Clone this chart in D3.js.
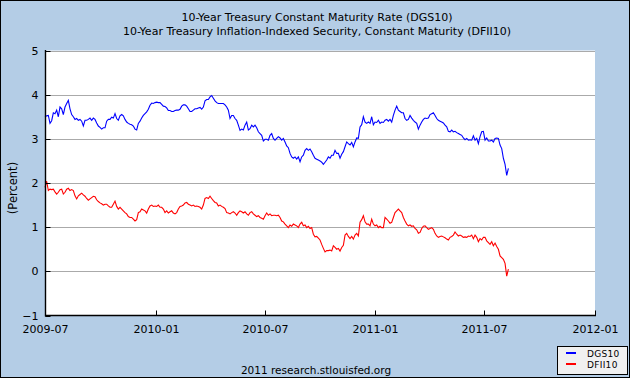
<!DOCTYPE html>
<html><head><meta charset="utf-8">
<script src="https://cdn.jsdelivr.net/npm/d3@7"></script>
<style>
body{margin:0;background:#fff}
svg{display:block}
text{font-family:"DejaVu Sans",Verdana,sans-serif;fill:#000}
</style>
</head><body>
<svg id="c" width="630" height="378"></svg>
<script>
// ---- data ----
const titleLines = [
  "10-Year Treasury Constant Maturity Rate (DGS10)",
  "10-Year Treasury Inflation-Indexed Security, Constant Maturity (DFII10)"
];
const seriesNames = ["DGS10", "DFII10"];
const yTicks = [-1, 0, 1, 2, 3, 4, 5];
const xTicks = ["2009-07-01", "2010-01-01", "2010-07-01", "2011-01-01", "2011-07-01", "2012-01-01"];
const sampleStart = "2009-07-01";
const sampleStepDays = 2.77;

const dgs10 = [
3.50,3.52,3.53,3.35,3.41,3.59,3.57,3.65,3.50,3.72,
3.68,3.55,3.72,3.80,3.87,3.68,3.55,3.50,3.44,3.46,
3.42,3.44,3.40,3.29,3.42,3.42,3.44,3.47,3.42,3.47,
3.44,3.36,3.29,3.26,3.22,3.25,3.25,3.40,3.44,3.44,
3.49,3.47,3.57,3.46,3.42,3.52,3.55,3.52,3.44,3.38,
3.35,3.33,3.32,3.29,3.22,3.20,3.35,3.40,3.47,3.53,
3.57,3.61,3.67,3.76,3.81,3.80,3.82,3.83,3.82,3.82,
3.78,3.74,3.73,3.70,3.64,3.64,3.62,3.62,3.64,3.65,
3.65,3.67,3.74,3.77,3.77,3.74,3.68,3.62,3.62,3.65,
3.68,3.68,3.70,3.71,3.67,3.72,3.86,3.89,3.89,3.95,
3.98,3.92,3.86,3.82,3.80,3.80,3.80,3.80,3.77,3.72,
3.65,3.46,3.53,3.53,3.46,3.42,3.31,3.19,3.22,3.20,
3.31,3.38,3.20,3.23,3.31,3.27,3.31,3.25,3.16,3.12,
3.08,2.95,2.99,2.99,2.97,3.08,3.12,3.01,
2.97,3.01,3.05,3.02,2.97,3.01,2.93,2.84,2.80,2.67,
2.59,2.56,2.59,2.54,2.59,2.48,2.59,2.63,2.74,2.78,
2.74,2.77,2.71,2.63,2.56,2.54,2.52,2.50,2.47,2.42,
2.47,2.52,2.59,2.56,2.63,2.63,2.74,2.67,2.67,2.56,
2.65,2.71,2.82,2.93,2.89,2.86,2.92,2.82,2.93,3.02,
3.01,3.27,3.32,3.50,3.38,3.35,3.38,3.35,3.50,3.32,
3.38,3.37,3.42,3.35,3.38,3.37,3.42,3.44,3.40,3.44,
3.38,3.53,3.65,3.74,3.65,3.62,3.59,3.59,3.46,3.42,
3.44,3.53,3.47,3.42,3.38,3.35,3.22,3.31,3.38,3.44,
3.47,3.46,3.47,3.55,3.57,3.59,3.53,3.46,3.42,3.40,
3.38,3.36,3.31,3.27,3.17,3.16,3.20,3.16,3.17,3.14,
3.12,3.10,3.08,3.02,2.98,3.01,2.97,2.98,2.97,3.07,
2.97,3.01,2.89,3.05,3.16,3.17,2.97,3.02,2.95,2.95,
2.97,2.93,3.01,3.02,3.01,2.86,2.78,2.56,2.42,2.17,
2.33
];

const dfii10 = [
1.90,2.04,1.83,1.86,1.85,1.86,1.80,1.75,1.79,1.85,
1.86,1.75,1.79,1.86,1.88,1.83,1.85,1.83,1.71,1.64,
1.71,1.74,1.77,1.73,1.70,1.65,1.61,1.64,1.67,1.70,
1.69,1.62,1.58,1.55,1.53,1.50,1.52,1.52,1.48,1.45,
1.45,1.52,1.59,1.47,1.41,1.45,1.41,1.37,1.33,1.30,
1.24,1.22,1.22,1.18,1.14,1.17,1.33,1.35,1.41,1.39,
1.37,1.32,1.41,1.48,1.50,1.47,1.48,1.47,1.50,1.45,
1.45,1.41,1.33,1.37,1.32,1.35,1.37,1.32,1.30,1.33,
1.41,1.47,1.48,1.50,1.55,1.56,1.52,1.50,1.48,1.50,
1.47,1.48,1.47,1.45,1.41,1.50,1.65,1.67,1.65,1.70,
1.65,1.60,1.56,1.55,1.48,1.50,1.47,1.45,1.42,1.33,
1.32,1.30,1.33,1.35,1.32,1.27,1.33,1.37,1.35,1.32,
1.35,1.30,1.27,1.33,1.35,1.30,1.27,1.24,1.26,1.22,
1.20,1.18,1.26,1.32,1.27,1.30,1.26,1.27,
1.27,1.26,1.27,1.22,1.14,1.12,1.07,1.03,0.99,1.05,
1.02,1.07,1.05,1.03,0.99,1.07,1.11,1.03,1.05,0.99,
1.02,0.97,0.99,0.84,0.78,0.79,0.75,0.71,0.61,0.52,
0.44,0.47,0.47,0.48,0.46,0.58,0.54,0.50,0.52,0.46,
0.54,0.59,0.82,0.86,0.79,0.74,0.79,0.73,0.82,0.86,
0.80,1.11,1.17,1.26,1.12,1.07,1.07,1.03,1.18,1.07,
1.03,1.05,0.99,1.02,0.99,0.99,1.22,1.18,1.14,1.09,
1.11,1.22,1.33,1.37,1.41,1.37,1.33,1.22,1.14,1.07,
1.03,1.05,1.02,1.03,0.97,0.94,0.86,0.88,0.97,1.02,
1.03,0.99,0.95,0.97,0.99,0.95,0.86,0.80,0.77,0.79,
0.80,0.78,0.76,0.73,0.71,0.77,0.79,0.82,0.89,0.84,
0.80,0.82,0.80,0.77,0.78,0.77,0.80,0.79,0.82,0.74,
0.82,0.77,0.67,0.74,0.71,0.77,0.77,0.69,0.65,0.61,
0.67,0.58,0.64,0.56,0.50,0.35,0.31,0.27,0.18,-0.11,
0.05
];
const seriesColors = ["#0000ff", "#ff0000"];

// ---- drawing ----
const parse = d3.timeParse("%Y-%m-%d");
const t0 = parse(sampleStart);
const dates = dgs10.map((_, i) => new Date(t0.getTime() + i * sampleStepDays * 864e5));

const svg = d3.select("#c");
svg.append("rect").attr("x", 0.5).attr("y", 0.5).attr("width", 629).attr("height", 377)
  .attr("fill", "#b4cde6").attr("stroke", "#000");

const L = 45, R = 595, T = 50.5, B = 315.5;
svg.append("rect").attr("x", L).attr("y", T).attr("width", R - L).attr("height", B - T).attr("fill", "#fff");

const x = d3.scaleTime().domain([parse(xTicks[0]), parse(xTicks[xTicks.length - 1])]).range([L, R]);
const y = d3.scaleLinear().domain([-1, 5]).range([B, T]);
const cy = v => Math.round(y(v)) + 0.5;

// gridlines
svg.append("g").selectAll("line").data(yTicks.filter(d => d > -1)).join("line")
  .attr("x1", L).attr("x2", R).attr("y1", cy).attr("y2", cy)
  .attr("stroke", "#aaaaaa").attr("stroke-width", 1);

// lines
const series = [dgs10, dfii10];
const line = d3.line().x((d, i) => x(dates[i])).y(d => y(d));
svg.append("g").selectAll("path").data(series).join("path")
  .attr("d", line).attr("fill", "none")
  .attr("stroke", (d, i) => seriesColors[i]).attr("stroke-width", 1.1)
  .attr("stroke-linejoin", "miter");

// y axis
const yAxis = d3.axisLeft(y).tickValues(yTicks).tickFormat(d3.format("d"))
  .tickSizeInner(-5).tickSizeOuter(0).tickPadding(7);
const gy = svg.append("g").attr("transform", `translate(${L + 0.5},0)`).call(yAxis);
gy.selectAll(".tick").attr("transform", d => `translate(0,${cy(d)})`);
gy.select(".domain").attr("d", `M0,${T - 0.5}V${B + 1}`).attr("stroke", "#000").attr("stroke-width", 1.4);
gy.selectAll(".tick line").attr("stroke", "#000");
gy.selectAll(".tick text").attr("font-size", 11).attr("font-family", "DejaVu Sans, Verdana, sans-serif").attr("fill", "#000");

// x axis
const xAxis = d3.axisBottom(x).tickValues(xTicks.map(parse)).tickFormat(d3.timeFormat("%Y-%m"))
  .tickSizeInner(-5).tickSizeOuter(0).tickPadding(10);
const gx = svg.append("g").attr("transform", `translate(0,${B})`).call(xAxis);
gx.selectAll(".tick").attr("transform", d => `translate(${Math.round(x(d)) + 0.5},0)`);
gx.select(".domain").attr("d", `M${L},0H${R + 1}`).attr("stroke", "#000").attr("stroke-width", 1.4);
gx.selectAll(".tick line").attr("stroke", "#000");
gx.selectAll(".tick text").attr("font-size", 11).attr("font-family", "DejaVu Sans, Verdana, sans-serif").attr("fill", "#000");

// titles
svg.append("g").selectAll("text").data(titleLines).join("text")
  .attr("x", 317).attr("y", (d, i) => 21 + i * 14)
  .attr("text-anchor", "middle").attr("font-size", 11).text(d => d);

// y label
svg.append("text").attr("transform", "translate(17,188) rotate(-90)")
  .attr("text-anchor", "middle").attr("font-size", 11.5).text("(Percent)");

// credits
svg.append("text").attr("x", 316).attr("y", 374).attr("text-anchor", "middle")
  .attr("font-size", 10.5).text("2011 research.stlouisfed.org");

// legend
const lg = svg.append("g");
lg.append("rect").attr("x", 557.5).attr("y", 346.5).attr("width", 70).attr("height", 28)
  .attr("fill", "#f0f0f0").attr("stroke", "#000");
const li = lg.selectAll("g").data(seriesNames).join("g")
  .attr("transform", (d, i) => `translate(0,${353 + i * 11})`);
li.append("line").attr("x1", 566).attr("x2", 576).attr("y1", 0).attr("y2", 0)
  .attr("stroke", (d, i) => seriesColors[i]).attr("stroke-width", 2);
li.append("text").attr("x", 587).attr("y", 3.5).attr("font-size", 9).attr("letter-spacing", 0.3).text(d => d);
</script>
</body></html>
